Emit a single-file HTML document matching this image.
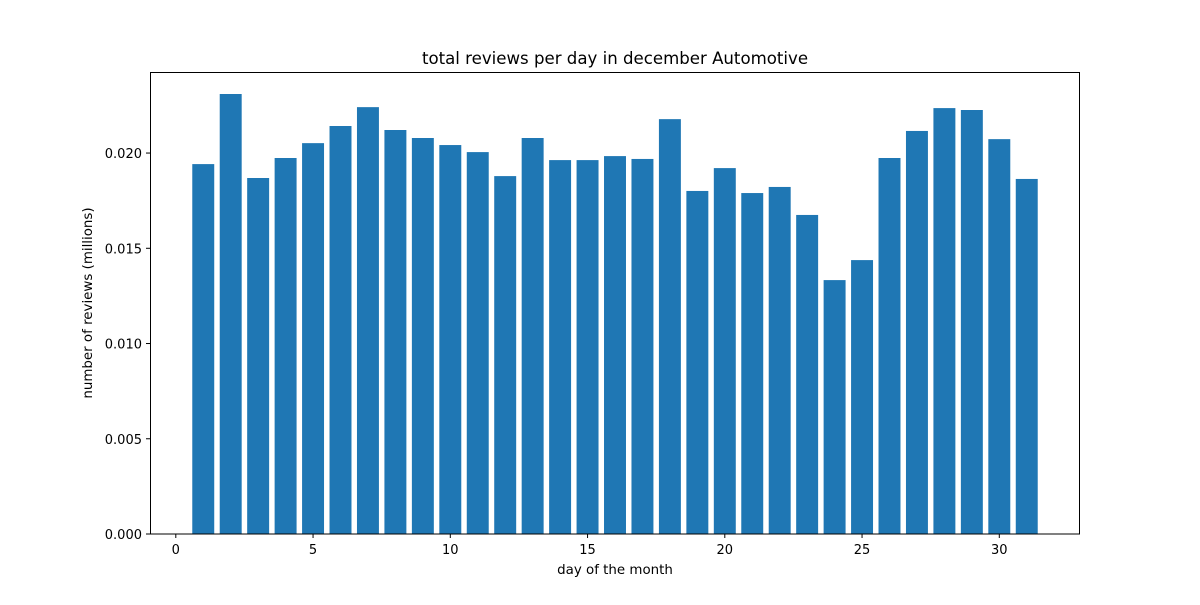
<!DOCTYPE html>
<html><head><meta charset="utf-8"><style>
html,body{margin:0;padding:0;background:#fff;}
svg text{font-family:"DejaVu Sans","Liberation Sans",sans-serif;fill:#000;}
</style></head><body>
<svg id="chart" width="1200" height="600" xmlns="http://www.w3.org/2000/svg">
<rect width="1200" height="600" fill="#fff"/>
<text x="615" y="64" font-size="16.6" text-anchor="middle">total reviews per day in december Automotive</text>
<g id="bars"></g>
<g id="xticks"></g>
<g id="yticks"></g>
<rect x="150.5" y="72.5" width="929" height="461.5" fill="none" stroke="#000" stroke-width="1"/>
<text x="615" y="574" font-size="13.4" text-anchor="middle">day of the month</text>
<text x="92" y="303" font-size="13.4" text-anchor="middle" transform="rotate(-90 92 303)">number of reviews (millions)</text>
</svg>
<script>
const days = [1,2,3,4,5,6,7,8,9,10,11,12,13,14,15,16,17,18,19,20,21,22,23,24,25,26,27,28,29,30,31];
const reviews = [0.01942,0.02310,0.01869,0.01974,0.02052,0.02142,0.02241,0.02121,0.02079,0.02042,0.02005,0.01879,0.02079,0.01963,0.01963,0.01984,0.01969,0.02178,0.01801,0.01921,0.01790,0.01822,0.01675,0.01333,0.01438,0.01974,0.02116,0.02236,0.02226,0.02073,0.01864];
const xTicks = [0,5,10,15,20,25,30];
const yTicks = [0,0.005,0.010,0.015,0.020];
const yTickLabels = ["0.000","0.005","0.010","0.015","0.020"];

const L=150,R=1080,T=72,B=534;
const xmin=0.6-0.05*30.8, xmax=31.4+0.05*30.8;
const ymax=Math.max(...reviews)*1.05;
const X=v=>L+(v-xmin)/(xmax-xmin)*(R-L);
const Y=v=>B-v/ymax*(B-T);
const NS="http://www.w3.org/2000/svg";
const bars=document.getElementById('bars');
days.forEach((d,i)=>{
  const r=document.createElementNS(NS,'rect');
  
  
  r.setAttribute('x',X(d-0.4));r.setAttribute('width',X(d+0.4)-X(d-0.4));
  r.setAttribute('y',Y(reviews[i]));r.setAttribute('height',B-Y(reviews[i]));
  r.setAttribute('fill','#1f77b4');
  bars.appendChild(r);
});
const xg=document.getElementById('xticks');
xTicks.forEach(t=>{
  const l=document.createElementNS(NS,'line');
  
  
  l.setAttribute('x1',X(t));l.setAttribute('x2',X(t));l.setAttribute('y1',B);l.setAttribute('y2',B+4);l.setAttribute('stroke','#000');
  xg.appendChild(l);
  const tx=document.createElementNS(NS,'text');
  
  
  tx.setAttribute('x',X(t));tx.setAttribute('y',B+20);tx.setAttribute('font-size','13');tx.setAttribute('text-anchor','middle');
  tx.textContent=t;xg.appendChild(tx);
});
const yg=document.getElementById('yticks');
yTicks.forEach((t,i)=>{
  const l=document.createElementNS(NS,'line');
  
  
  l.setAttribute('x1',L-4);l.setAttribute('x2',L);l.setAttribute('y1',Y(t));l.setAttribute('y2',Y(t));l.setAttribute('stroke','#000');
  yg.appendChild(l);
  const tx=document.createElementNS(NS,'text');
  
  
  tx.setAttribute('x',L-8);tx.setAttribute('y',Y(t)+5);tx.setAttribute('font-size','13');tx.setAttribute('text-anchor','end');
  tx.textContent=yTickLabels[i];yg.appendChild(tx);
});
</script>
</body></html>
